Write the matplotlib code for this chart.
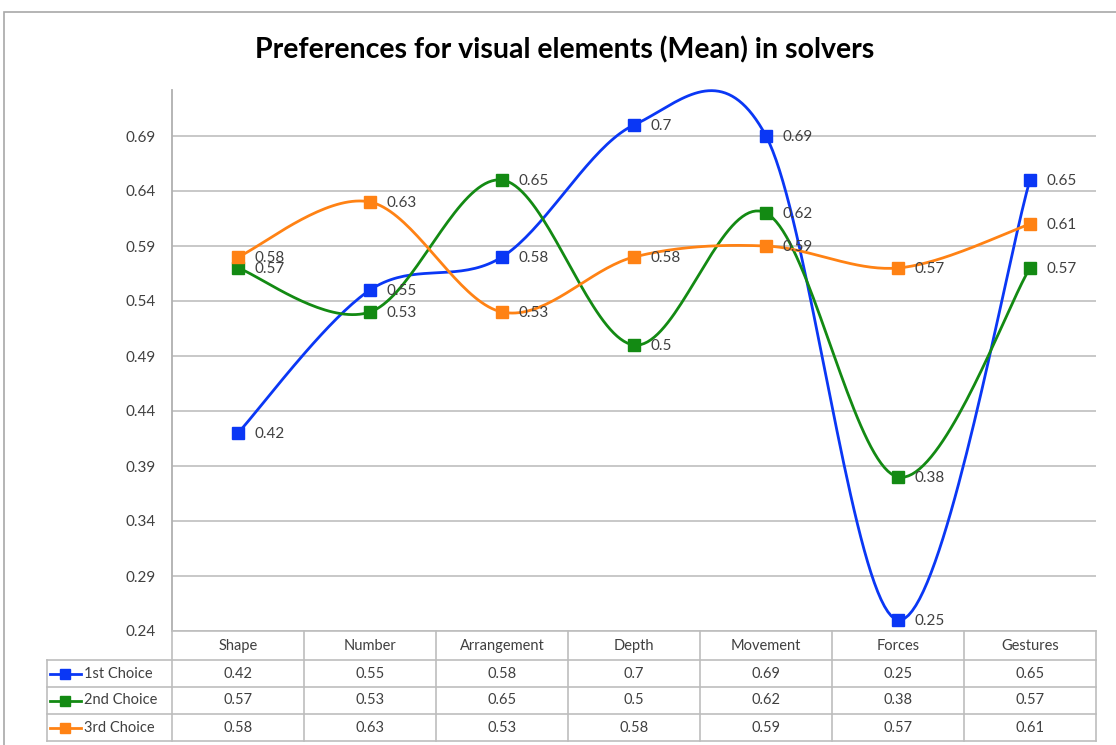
import numpy as np
import matplotlib
matplotlib.use("Agg")
import matplotlib.pyplot as plt
from matplotlib.patches import Rectangle

plt.rcParams['font.family'] = ['Lato', 'DejaVu Sans']

categories = ["Shape", "Number", "Arrangement", "Depth", "Movement", "Forces", "Gestures"]
series_names = ["1st Choice", "2nd Choice", "3rd Choice"]
first_choice = [0.42, 0.55, 0.58, 0.7, 0.69, 0.25, 0.65]
second_choice = [0.57, 0.53, 0.65, 0.5, 0.62, 0.38, 0.57]
third_choice = [0.58, 0.63, 0.53, 0.58, 0.59, 0.57, 0.61]
yticks = [0.24, 0.29, 0.34, 0.39, 0.44, 0.49, 0.54, 0.59, 0.64, 0.69]
title = "Preferences for visual elements (Mean) in solvers"

series = [first_choice, second_choice, third_choice]
colors = ["#0A37F5", "#138A13", "#FF8214"]
text_color = "#404040"
grid_color = "#C4C4C4"

W, H = 1116, 745
fig = plt.figure(figsize=(W / 100, H / 100), dpi=100)

def fx(px):
    return px / W

def fy(py):
    return 1 - py / H

# outer chart frame
fig.patches.append(Rectangle((fx(4), fy(760)), fx(1200), fy(12) - fy(760),
                             transform=fig.transFigure, fill=False,
                             edgecolor="#A8A8A8", linewidth=1.2))

left, right, top, bottom = 172, 1096, 90, 631
ax = fig.add_axes([fx(left), fy(bottom), fx(right - left), fy(top) - fy(bottom)])
ax.set_xlim(-0.5, len(categories) - 0.5)
ymin = 0.24
ymax = ymin + (bottom - top) / 55 * 0.05
ax.set_ylim(ymin, ymax)
ax.set_yticks(yticks)
ax.set_yticklabels([f"{v:.2f}" for v in yticks])
ax.tick_params(axis='y', length=0, pad=12, labelsize=11, labelcolor=text_color)
ax.set_xticks([])
for s in ["top", "right", "bottom"]:
    ax.spines[s].set_visible(False)
ax.spines["left"].set_color("#B0B0B0")
ax.spines["left"].set_linewidth(1.3)
ax.grid(axis='y', color=grid_color, linewidth=1.3)
ax.set_axisbelow(True)


def smooth(xs, ys, n=40):
    xs = np.asarray(xs, float)
    ys = np.asarray(ys, float)
    pts = np.column_stack([xs, ys])
    out = []
    for i in range(len(pts) - 1):
        p0 = pts[i - 1] if i > 0 else pts[i]
        p1 = pts[i]
        p2 = pts[i + 1]
        p3 = pts[i + 2] if i + 2 < len(pts) else pts[i + 1]
        c1 = p1 + (p2 - p0) / 6
        c2 = p2 - (p3 - p1) / 6
        t = np.linspace(0, 1, n)[:, None]
        seg = ((1 - t) ** 3) * p1 + 3 * ((1 - t) ** 2) * t * c1 + 3 * (1 - t) * t ** 2 * c2 + t ** 3 * p2
        out.append(seg if i == 0 else seg[1:])
    return np.vstack(out)

x = np.arange(len(categories))
for vals, c in zip(series, colors):
    curve = smooth(x, vals)
    ax.plot(curve[:, 0], curve[:, 1], color=c, linewidth=2.0, solid_capstyle='round', zorder=3, clip_on=False)
    ax.plot(x, vals, linestyle='none', marker='s', markersize=8, color=c, zorder=4, clip_on=False)
    for xi, v in zip(x, vals):
        ax.annotate(f"{v:g}", (xi, v), xytext=(12, -1), textcoords='offset points',
                    ha='left', va='center', fontsize=11, color=text_color, zorder=5)

fig.text(fx(565), fy(50), title, ha='center', va='center', fontsize=20.5,
         fontweight='bold', color='black')

# data table
tleft, tbottom = 47, 741
tab = fig.add_axes([fx(tleft), fy(tbottom), fx(right - tleft), fy(bottom) - fy(tbottom)])
legw = (left - tleft) / 132.0
tab.set_xlim(-0.5 - legw, len(categories) - 0.5)
tab.set_ylim(tbottom - bottom, 0)
tab.axis('off')
lc = "#BDBDBD"
lw = 1.2
rows_y = [0, 29, 56, 83, 110]
# horizontal lines
tab.plot([-0.5, len(categories) - 0.5], [0, 0], color=lc, lw=lw, clip_on=False)
for yy in rows_y[1:]:
    tab.plot([-0.5 - legw, len(categories) - 0.5], [yy, yy], color=lc, lw=lw, clip_on=False)
# vertical lines
for k in range(len(categories) + 1):
    tab.plot([k - 0.5, k - 0.5], [0, 110], color=lc, lw=lw, clip_on=False)
tab.plot([-0.5 - legw, -0.5 - legw], [29, 110], color=lc, lw=lw, clip_on=False)

fs_tab = 10.5
for k, cat in enumerate(categories):
    tab.text(k, 15, cat, ha='center', va='center', fontsize=fs_tab, color=text_color)
for r, (name, vals, c) in enumerate(zip(series_names, series, colors)):
    yc = (rows_y[r + 1] + rows_y[r + 2]) / 2
    for k, v in enumerate(vals):
        tab.text(k, yc, f"{v:g}", ha='center', va='center', fontsize=fs_tab, color=text_color)
    x0 = -0.5 - legw
    tab.plot([x0 + 3 / 132, x0 + 34 / 132], [yc, yc], color=c, lw=2.0, clip_on=False)
    tab.plot([x0 + 18 / 132], [yc], marker='s', markersize=6.5, color=c, clip_on=False)
    tab.text(x0 + 37 / 132, yc, name, ha='left', va='center', fontsize=fs_tab, color=text_color)

fig.savefig("out.png", dpi=100)
